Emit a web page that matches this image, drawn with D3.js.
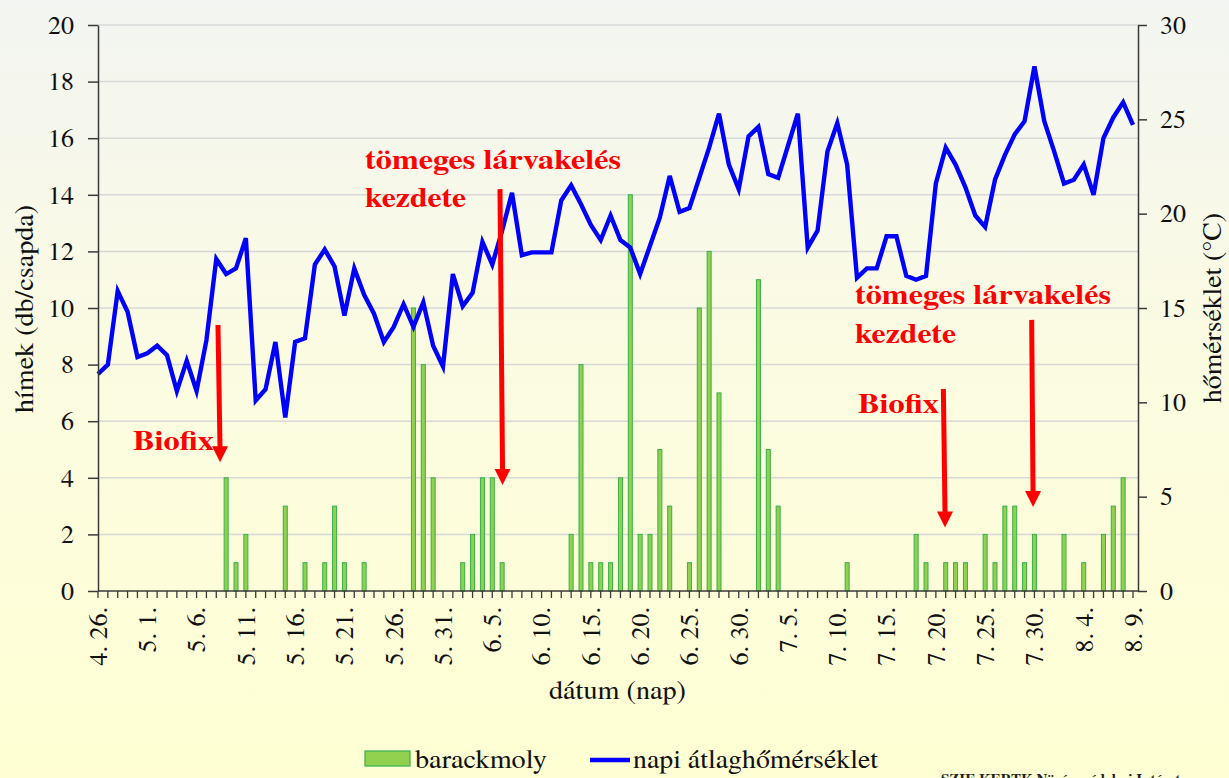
<!DOCTYPE html>
<html><head><meta charset="utf-8">
<script src="https://cdn.jsdelivr.net/npm/d3@7"></script>
<style>
body{margin:0;background:#fff;}
svg{display:block;}
</style>
</head><body>
<svg id="c" width="1229" height="778"></svg>
<script>
// ---------- DATA ----------
const tickLabels = ["4. 26.","5. 1.","5. 6.","5. 11.","5. 16.","5. 21.","5. 26.","5. 31.","6. 5.","6. 10.","6. 15.",
  "6. 20.","6. 25.","6. 30.","7. 5.","7. 10.","7. 15.","7. 20.","7. 25.","7. 30.","8. 4.","8. 9."];
const dayCount = 106; // 4.26. .. 8.9.
const moths = [ // barackmoly, hímek (db/csapda)
  0,0,0,0,0,0,0,0,0,0,
  0,0,0,4,1,2,0,0,0,3,
  0,1,0,1,3,1,0,1,0,0,
  0,0,10,8,4,0,0,1,2,4,
  4,1,0,0,0,0,0,0,2,8,
  1,1,1,4,14,2,2,5,3,0,
  1,10,12,7,0,0,0,11,5,3,
  0,0,0,0,0,0,1,0,0,0,
  0,0,0,2,1,0,1,1,1,0,
  2,1,3,3,1,2,0,0,2,0,
  1,0,2,3,4,0];
const temps = [ // napi átlaghőmérséklet (°C)
  11.5,12.0,15.9,14.8,12.4,12.6,13.0,12.5,10.6,12.2,
  10.6,13.3,17.6,16.8,17.1,18.7,10.1,10.7,13.2,9.2,
  13.2,13.4,17.3,18.1,17.2,14.6,17.1,15.7,14.7,13.2,
  14.0,15.2,14.0,15.3,13.0,11.9,16.8,15.1,15.8,18.5,
  17.3,19.1,21.1,17.8,17.95,17.95,17.95,20.7,21.5,20.5,
  19.4,18.6,19.9,18.6,18.2,16.8,18.3,19.8,22.0,20.1,
  20.3,21.9,23.5,25.3,22.6,21.3,24.1,24.6,22.1,21.9,
  23.6,25.3,18.2,19.1,23.3,24.8,22.6,16.6,17.1,17.1,
  18.8,18.8,16.7,16.5,16.7,21.6,23.5,22.6,21.4,19.9,
  19.3,21.8,23.1,24.2,24.9,27.8,24.9,23.3,21.6,21.8,
  22.6,21.0,24.0,25.1,25.9,24.7];
const leftTicks = [0,2,4,6,8,10,12,14,16,18,20];
const rightTicks = [0,5,10,15,20,25,30];
const seriesNames = ["barackmoly","napi átlaghőmérséklet"];
// annotations in data units (day index, left-axis value)
const annotTexts = [
  {lines:["Biofix"], day:3.55, val:[4.98]},
  {lines:["tömeges lárvakelés","kezdete"], day:27.1, val:[14.91,13.57]},
  {lines:["tömeges lárvakelés","kezdete"], day:76.8, val:[10.14,8.76]},
  {lines:["Biofix"], day:77.1, val:[6.29]}
];
const arrows = [
  {d0:12.17, v0:9.4, d1:12.38, v1:4.55},
  {d0:40.78, v0:14.2, d1:41.04, v1:3.75},
  {d0:94.72, v0:9.58, d1:94.86, v1:2.97},
  {d0:85.76, v0:7.14, d1:85.93, v1:2.24}
];

// ---------- CHART ----------
const FONT = "'Nimbus Roman','Nimbus Roman No9 L','TeX Gyre Termes','Times New Roman',Times,'Liberation Serif','Noto Serif','DejaVu Serif',serif";
const svg = d3.select("#c").style("font-family", FONT);
const L=98, R=1138, T=25, B=591;
const defs = svg.append("defs");
const g = defs.append("linearGradient").attr("id","bg").attr("x1",0).attr("y1",0).attr("x2",0).attr("y2",1);
g.append("stop").attr("offset","0%").attr("stop-color","#f3f5f2");
g.append("stop").attr("offset","45%").attr("stop-color","#fbfbe2");
g.append("stop").attr("offset","100%").attr("stop-color","#ffffd3");
svg.append("rect").attr("width",1229).attr("height",778).attr("fill","url(#bg)");

const x = d3.scaleLinear().domain([0,dayCount-1]).range([L,1133]);
const yL = d3.scaleLinear().domain([0,20]).range([B,T]);
const yR = d3.scaleLinear().domain([0,30]).range([B,T]);

// grid
svg.append("g").selectAll("line").data(leftTicks.filter(v=>v>0)).join("line")
  .attr("x1",L).attr("x2",R).attr("y1",d=>yL(d)).attr("y2",d=>yL(d))
  .attr("stroke","#d8d8d8").attr("stroke-width",1.5);

// bars
svg.append("g").selectAll("rect").data(moths.map((v,i)=>({v,i})).filter(d=>d.v>0)).join("rect")
  .attr("x",d=>x(d.i)-2).attr("width",4)
  .attr("y",d=>yL(d.v)).attr("height",d=>B-yL(d.v))
  .attr("fill","#92d050").attr("stroke","#35b04a").attr("stroke-width",1);

// line
svg.append("path").datum(temps)
  .attr("d",d3.line().x((d,i)=>x(i)).y(d=>yR(d)))
  .attr("fill","none").attr("stroke","#0000ff").attr("stroke-width",4.4).attr("stroke-linejoin","miter");

// axes
const axisColor="#3a3a3a";
const la = svg.append("g").attr("transform",`translate(${L},0)`)
  .call(d3.axisLeft(yL).tickValues(leftTicks).tickSize(10).tickSizeOuter(0).tickPadding(14));
const ra = svg.append("g").attr("transform",`translate(${R},0)`)
  .call(d3.axisRight(yR).tickValues(rightTicks).tickSize(9).tickSizeOuter(0).tickPadding(13));
[la,ra].forEach(a=>{
  a.attr("font-family",null).attr("font-size",null);
  a.select(".domain").attr("stroke",axisColor).attr("stroke-width",1.5);
  a.selectAll(".tick line").attr("stroke",axisColor).attr("stroke-width",1.5);
  a.selectAll(".tick text").style("font-size","26px").style("font-family",FONT).attr("fill","#111");
});
// x axis
svg.append("line").attr("x1",L).attr("x2",R).attr("y1",B).attr("y2",B)
  .attr("stroke",axisColor).attr("stroke-width",1.5);
svg.append("g").selectAll("line").data(d3.range(dayCount)).join("line")
  .attr("x1",d=>x(d)).attr("x2",d=>x(d)).attr("y1",B).attr("y2",B+7)
  .attr("stroke",axisColor).attr("stroke-width",1.3);
svg.append("g").selectAll("text").data(tickLabels).join("text")
  .attr("transform",(d,k)=>`translate(${x(k*5)},607) rotate(-90)`)
  .attr("dy","0.34em").attr("text-anchor","end").style("font-size","26px").style("font-family",FONT).attr("fill","#111")
  .text(d=>d);

// axis titles
function txt(sel){ return sel.style("font-family",FONT).attr("lengthAdjust","spacingAndGlyphs"); }
txt(svg.append("text")).attr("transform","translate(33,309) rotate(-90)")
  .attr("text-anchor","middle").style("font-size","27px").attr("fill","#111")
  .attr("textLength",208).text("hímek (db/csapda)");
txt(svg.append("text")).attr("transform","translate(1221,308) rotate(-90)")
  .attr("text-anchor","middle").style("font-size","27px").attr("fill","#111")
  .attr("textLength",190).text("hőmérséklet (°C)");
txt(svg.append("text")).attr("x",549).attr("y",699)
  .style("font-size","27px").attr("fill","#111").attr("textLength",137).text("dátum (nap)");

// annotations
const ann = svg.append("g");
const annLen = {"Biofix":81,"tömeges lárvakelés":256,"kezdete":101};
annotTexts.forEach(a=>{
  a.lines.forEach((ln,j)=>{
    txt(ann.append("text")).attr("x",x(a.day)).attr("y",yL(a.val[j]))
      .style("font-size","28px").style("font-weight","bold").attr("fill","#ff0000")
      .attr("textLength",annLen[ln]).text(ln);
  });
});
arrows.forEach(a=>{
  const x0=x(a.d0), y0=yL(a.v0), x1=x(a.d1), y1=yL(a.v1);
  const hh=16, hw=8;
  ann.append("line").attr("x1",x0).attr("y1",y0).attr("x2",x1).attr("y2",y1-hh+2)
    .attr("stroke","#ff0000").attr("stroke-width",5);
  ann.append("path").attr("d",`M${x1-hw},${y1-hh}L${x1+hw},${y1-hh}L${x1},${y1}Z`).attr("fill","#ff0000");
});

// legend
const lg = svg.append("g");
lg.append("rect").attr("x",365).attr("y",751).attr("width",45).attr("height",15)
  .attr("fill","#92d050").attr("stroke","#35b04a").attr("stroke-width",1.2);
txt(lg.append("text")).attr("x",415).attr("y",768).style("font-size","27px").attr("fill","#111")
  .attr("textLength",132).text(seriesNames[0]);
lg.append("line").attr("x1",590).attr("x2",630).attr("y1",760).attr("y2",760)
  .attr("stroke","#0000ff").attr("stroke-width",4.4);
txt(lg.append("text")).attr("x",633).attr("y",768).style("font-size","27px").attr("fill","#111")
  .attr("textLength",245).text(seriesNames[1]);

// source (clipped at bottom, as in the reference)
txt(svg.append("text")).attr("x",941).attr("y",785).style("font-size","15px").style("font-weight","bold")
  .attr("fill","#222").text("SZIE KERTK Növényvédelmi Intézet");
</script>
</body></html>
